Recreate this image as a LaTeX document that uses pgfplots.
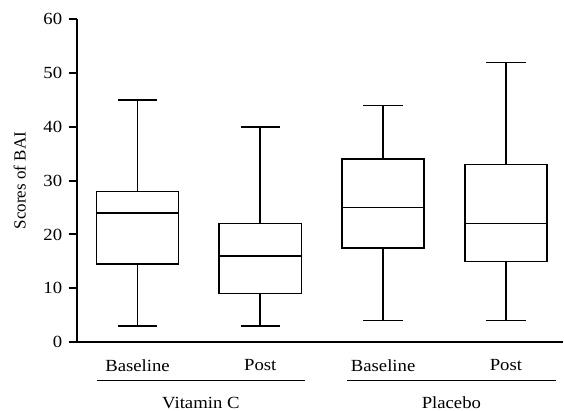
\documentclass[border=0pt]{standalone}
\usepackage{fontspec}
\setmainfont[FakeStretch=1.1]{Liberation Serif}
\newfontfamily\ylabfont{Liberation Serif}
\usepackage{pgfplots}
\pgfplotsset{compat=1.18}
\usepgfplotslibrary{statistics}
\begin{document}
\begin{tikzpicture}
\begin{axis}[
  scale only axis, width=486.3bp, height=322.7bp,
  xmin=0.505, xmax=4.465, ymin=0, ymax=60,
  axis x line*=bottom, axis y line*=left,
  axis line style={line width=2bp},
  ytick={0,10,...,60},
  xtick={1,2,3,4}, xticklabels={Baseline,Post,Baseline,Post},
  x tick style={draw=none},
  y tick style={line width=2bp, black},
  tick align=outside, major tick length=8bp,
  tick label style={font=\fontsize{17bp}{20bp}\selectfont},
  xticklabel style={yshift=-6bp},
  yticklabel style={xshift=-3bp},
  /pgf/number format/assume math mode=true,
  ylabel={Scores of BAI},
  ylabel style={font=\ylabfont\fontsize{17bp}{20bp}\selectfont, at={(axis description cs:-0.1172,0.5)}, anchor=center},
  clip=false,
  boxplot/draw direction=y,
  boxplot/box extend=0.67,
  boxplot/whisker extend=0.32,
]
\addplot[black, solid, line width=1.6bp, boxplot prepared={draw position=1, lower whisker=3, lower quartile=14.5, median=24, upper quartile=28, upper whisker=45}] coordinates {};
\addplot[black, solid, line width=1.6bp, boxplot prepared={draw position=2, lower whisker=3, lower quartile=9, median=16, upper quartile=22, upper whisker=40}] coordinates {};
\addplot[black, solid, line width=1.6bp, boxplot prepared={draw position=3, lower whisker=4, lower quartile=17.5, median=25, upper quartile=34, upper whisker=44}] coordinates {};
\addplot[black, solid, line width=1.6bp, boxplot prepared={draw position=4, lower whisker=4, lower quartile=15, median=22, upper quartile=33, upper whisker=52}] coordinates {};
\draw[line width=1.5bp] ([yshift=-38.7bp]axis cs:0.668,0) -- ([yshift=-38.7bp]axis cs:2.364,0);
\draw[line width=1.5bp] ([yshift=-38.7bp]axis cs:2.704,0) -- ([yshift=-38.7bp]axis cs:4.408,0);
\node[anchor=base, font=\fontsize{17bp}{20bp}\selectfont, inner sep=0pt] at ([yshift=-66bp]axis cs:1.516,0) {Vitamin C};
\node[anchor=base, font=\fontsize{17bp}{20bp}\selectfont, inner sep=0pt] at ([yshift=-66bp]axis cs:3.556,0) {Placebo};
\end{axis}
\path[use as bounding box] (-76.7bp,-69bp) rectangle (487.3bp,342bp);
\end{tikzpicture}
\end{document}
